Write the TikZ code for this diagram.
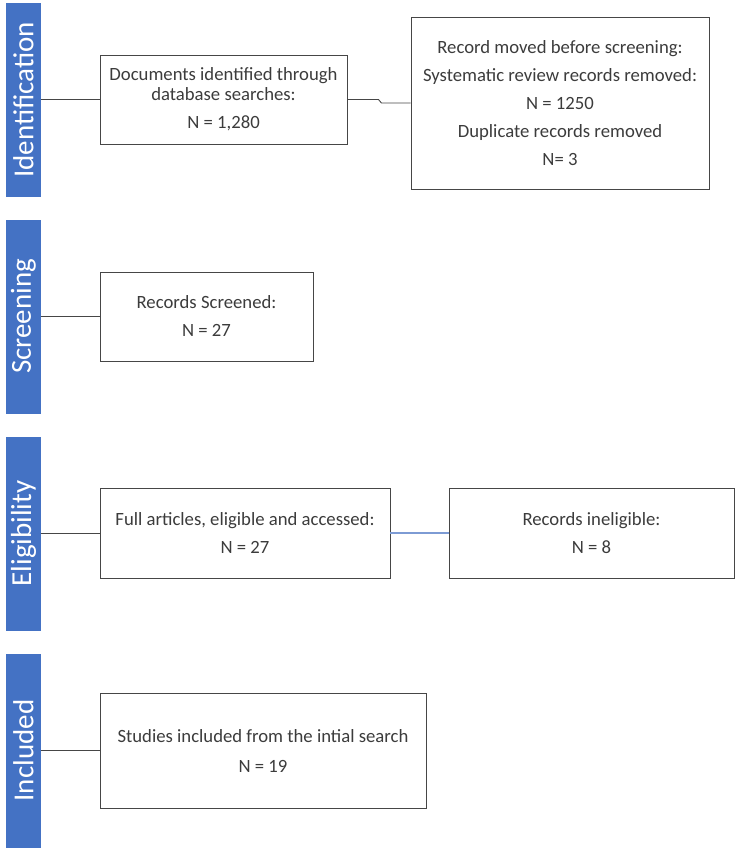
\documentclass[tikz,border=0pt]{standalone}
\usepackage{fontspec}
\usepackage{graphicx}
\setmainfont{Carlito}
\definecolor{barblue}{RGB}{68,114,196}
\definecolor{linkblue}{RGB}{125,155,212}
\definecolor{txt}{RGB}{60,60,60}
\definecolor{edge}{RGB}{70,70,70}
\begin{document}
\begin{tikzpicture}[x=1pt,y=-1pt,
  stagebar/.style={fill=barblue,draw=none,inner sep=0pt,minimum width=35pt,minimum height=194pt,
    text=white,font=\fontsize{29}{30}\selectfont},
  infobox/.style={draw=edge,line width=0.9pt,fill=white,inner sep=0pt,align=center,text=txt,
    font=\fontsize{18.7}{20}\selectfont},
  link/.style={draw=edge,line width=0.9pt}]
\useasboundingbox (0,0) rectangle (750,856);
% stage bars
\node[stagebar] (id) at (23.5,100) {\rotatebox{90}{Identification}};
\node[stagebar] (sc) at (23.5,316.5) {\rotatebox{90}{Screening}};
\node[stagebar] (el) at (23.5,533.5) {\rotatebox{90}{Eligibility}};
\node[stagebar] (in) at (23.5,750.5) {\rotatebox{90}{Included}};
% boxes
\node[infobox,minimum width=247pt,minimum height=89pt] (doc) at (223.5,99.5)
  {Documents identified through\\database searches:\\[8pt]N = 1,280};
\node[infobox,minimum width=298pt,minimum height=172pt] (rec) at (560,103)
  {Record moved before screening:\\[8pt]Systematic review records removed:\\[8pt]N = 1250\\[8pt]Duplicate records removed\\[8pt]N= 3};
\node[infobox,minimum width=213pt,minimum height=89pt] (scr) at (206.5,316.5)
  {Records Screened:\\[8pt]N = 27};
\node[infobox,minimum width=290pt,minimum height=90pt] (full) at (245,533)
  {Full articles, eligible and accessed:\\[8pt]N = 27};
\node[infobox,minimum width=285pt,minimum height=90pt] (inel) at (591.5,533)
  {Records ineligible:\\[8pt]N = 8};
\node[infobox,minimum width=326pt,minimum height=115pt] (stud) at (263,750.5)
  {Studies included from the intial search\\[10pt]N = 19};
% connectors
\draw[link] (doc.west -| id.east) -- (doc.west);
\draw[link] (doc.east) -- ++(31,0) -- ++(3,3.5) -- (rec.west);
\draw[link] (scr.west -| sc.east) -- (scr.west);
\draw[link] (full.west -| el.east) -- (full.west);
\draw[draw=linkblue,line width=1.2pt] (full.east) -- (inel.west);
\draw[link] (stud.west -| in.east) -- (stud.west);
\end{tikzpicture}
\end{document}
